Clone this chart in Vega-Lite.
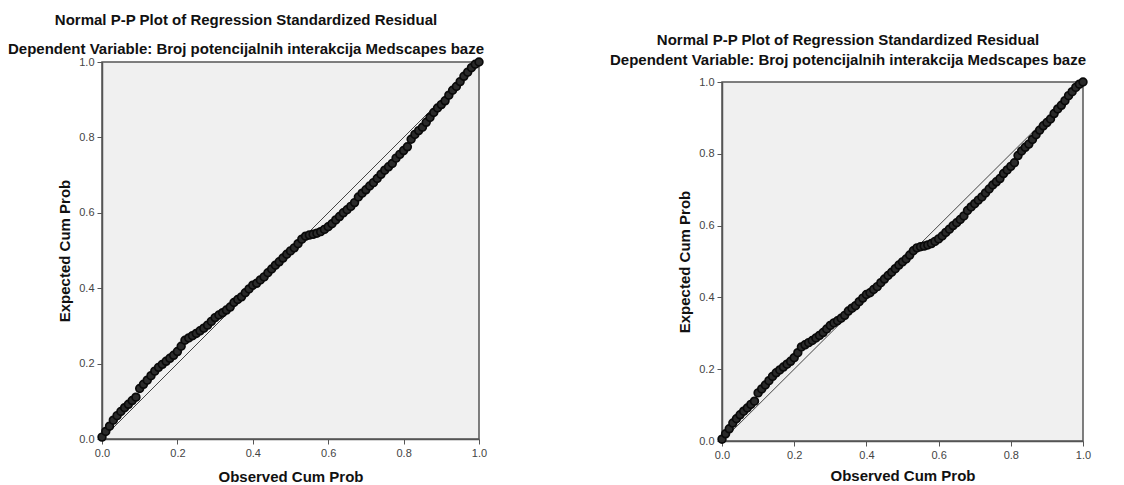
{
  "$schema": "https://vega.github.io/schema/vega-lite/v6.json",
  "background": "white",
  "padding": {"left": 7, "top": 11, "right": 5, "bottom": 0},
  "bounds": "flush",
  "spacing": 243,
  "config": {
    "font": "Liberation Sans",
    "view": {"fill": "#f0f0f0", "stroke": "#555555", "strokeWidth": 1.5},
    "axis": {
      "grid": false,
      "domainColor": "#555555",
      "domainWidth": 1.5,
      "tickColor": "#555555",
      "tickSize": 5,
      "tickWidth": 1,
      "labelColor": "#444444",
      "labelFont": "Liberation Sans",
      "labelFontSize": 11,
      "labelPadding": 3,
      "labelFlush": false,
      "titleFont": "Liberation Sans",
      "titleFontSize": 15,
      "titleFontWeight": "bold",
      "titleColor": "#111111"
    },
    "title": {
      "font": "Liberation Sans",
      "fontSize": 15,
      "fontWeight": "bold",
      "color": "#111111",
      "subtitleFont": "Liberation Sans",
      "subtitleFontSize": 15,
      "subtitleFontWeight": "bold",
      "subtitleColor": "#111111",
      "anchor": "middle"
    }
  },
  "datasets": {
    "pp": [
      {"observed": 0.00, "expected": 0.005},
      {"observed": 0.01, "expected": 0.020},
      {"observed": 0.02, "expected": 0.034},
      {"observed": 0.03, "expected": 0.050},
      {"observed": 0.04, "expected": 0.062},
      {"observed": 0.05, "expected": 0.073},
      {"observed": 0.06, "expected": 0.083},
      {"observed": 0.07, "expected": 0.092},
      {"observed": 0.08, "expected": 0.102},
      {"observed": 0.09, "expected": 0.111},
      {"observed": 0.10, "expected": 0.134},
      {"observed": 0.11, "expected": 0.145},
      {"observed": 0.12, "expected": 0.156},
      {"observed": 0.13, "expected": 0.168},
      {"observed": 0.14, "expected": 0.180},
      {"observed": 0.15, "expected": 0.190},
      {"observed": 0.16, "expected": 0.198},
      {"observed": 0.17, "expected": 0.206},
      {"observed": 0.18, "expected": 0.214},
      {"observed": 0.19, "expected": 0.222},
      {"observed": 0.20, "expected": 0.232},
      {"observed": 0.21, "expected": 0.246},
      {"observed": 0.22, "expected": 0.262},
      {"observed": 0.23, "expected": 0.268},
      {"observed": 0.24, "expected": 0.274},
      {"observed": 0.25, "expected": 0.280},
      {"observed": 0.26, "expected": 0.287},
      {"observed": 0.27, "expected": 0.294},
      {"observed": 0.28, "expected": 0.302},
      {"observed": 0.29, "expected": 0.312},
      {"observed": 0.30, "expected": 0.322},
      {"observed": 0.31, "expected": 0.329},
      {"observed": 0.32, "expected": 0.335},
      {"observed": 0.33, "expected": 0.342},
      {"observed": 0.34, "expected": 0.350},
      {"observed": 0.35, "expected": 0.362},
      {"observed": 0.36, "expected": 0.370},
      {"observed": 0.37, "expected": 0.377},
      {"observed": 0.38, "expected": 0.388},
      {"observed": 0.39, "expected": 0.398},
      {"observed": 0.40, "expected": 0.408},
      {"observed": 0.41, "expected": 0.413},
      {"observed": 0.42, "expected": 0.422},
      {"observed": 0.43, "expected": 0.430},
      {"observed": 0.44, "expected": 0.441},
      {"observed": 0.45, "expected": 0.451},
      {"observed": 0.46, "expected": 0.461},
      {"observed": 0.47, "expected": 0.470},
      {"observed": 0.48, "expected": 0.480},
      {"observed": 0.49, "expected": 0.490},
      {"observed": 0.50, "expected": 0.499},
      {"observed": 0.51, "expected": 0.507},
      {"observed": 0.52, "expected": 0.518},
      {"observed": 0.53, "expected": 0.530},
      {"observed": 0.54, "expected": 0.538},
      {"observed": 0.55, "expected": 0.541},
      {"observed": 0.56, "expected": 0.543},
      {"observed": 0.57, "expected": 0.546},
      {"observed": 0.58, "expected": 0.550},
      {"observed": 0.59, "expected": 0.556},
      {"observed": 0.60, "expected": 0.563},
      {"observed": 0.61, "expected": 0.571},
      {"observed": 0.62, "expected": 0.581},
      {"observed": 0.63, "expected": 0.590},
      {"observed": 0.64, "expected": 0.600},
      {"observed": 0.65, "expected": 0.608},
      {"observed": 0.66, "expected": 0.617},
      {"observed": 0.67, "expected": 0.627},
      {"observed": 0.68, "expected": 0.642},
      {"observed": 0.69, "expected": 0.652},
      {"observed": 0.70, "expected": 0.661},
      {"observed": 0.71, "expected": 0.671},
      {"observed": 0.72, "expected": 0.680},
      {"observed": 0.73, "expected": 0.691},
      {"observed": 0.74, "expected": 0.702},
      {"observed": 0.75, "expected": 0.713},
      {"observed": 0.76, "expected": 0.722},
      {"observed": 0.77, "expected": 0.731},
      {"observed": 0.78, "expected": 0.745},
      {"observed": 0.79, "expected": 0.755},
      {"observed": 0.80, "expected": 0.765},
      {"observed": 0.81, "expected": 0.775},
      {"observed": 0.82, "expected": 0.795},
      {"observed": 0.83, "expected": 0.808},
      {"observed": 0.84, "expected": 0.818},
      {"observed": 0.85, "expected": 0.827},
      {"observed": 0.86, "expected": 0.840},
      {"observed": 0.87, "expected": 0.853},
      {"observed": 0.88, "expected": 0.866},
      {"observed": 0.89, "expected": 0.878},
      {"observed": 0.90, "expected": 0.887},
      {"observed": 0.91, "expected": 0.897},
      {"observed": 0.92, "expected": 0.912},
      {"observed": 0.93, "expected": 0.925},
      {"observed": 0.94, "expected": 0.935},
      {"observed": 0.95, "expected": 0.948},
      {"observed": 0.96, "expected": 0.962},
      {"observed": 0.97, "expected": 0.973},
      {"observed": 0.98, "expected": 0.985},
      {"observed": 0.99, "expected": 0.994},
      {"observed": 1.00, "expected": 1.000}
    ],
    "diagonal": [
      {"observed": 0, "expected": 0},
      {"observed": 1, "expected": 1}
    ]
  },
  "hconcat": [
    {
      "width": 377,
      "height": 377,
      "title": {
        "text": "Normal P-P Plot of Regression Standardized Residual",
        "subtitle": "Dependent Variable: Broj potencijalnih interakcija Medscapes baze",
        "subtitlePadding": 14,
        "offset": -2,
        "dx": -44.5
      },
      "layer": [
        {
          "data": {"name": "diagonal"},
          "mark": {"type": "line", "color": "#444444", "strokeWidth": 1},
          "encoding": {
            "x": {"field": "observed", "type": "quantitative", "scale": {"domain": [0, 1], "nice": false}, "axis": {"title": "Observed Cum Prob", "values": [0, 0.2, 0.4, 0.6, 0.8, 1], "format": ".1f", "titlePadding": 11}},
            "y": {"field": "expected", "type": "quantitative", "scale": {"domain": [0, 1], "nice": false}, "axis": {"title": "Expected Cum Prob", "values": [0, 0.2, 0.4, 0.6, 0.8, 1], "format": ".1f", "titlePadding": 6}}
          }
        },
        {
          "data": {"name": "pp"},
          "mark": {"type": "point", "shape": "circle", "filled": true, "fill": "#2a2a2a", "stroke": "#0a0a0a", "size": 60, "strokeWidth": 1.7, "opacity": 1, "fillOpacity": 1},
          "encoding": {
            "x": {"field": "observed", "type": "quantitative"},
            "y": {"field": "expected", "type": "quantitative"}
          }
        }
      ]
    },
    {
      "bounds": "flush",
      "spacing": 0,
      "vconcat": [
        {
          "width": 361,
          "height": 20,
          "view": {"fill": "transparent", "stroke": "transparent"},
          "data": {"values": []},
          "mark": {"type": "point", "opacity": 0},
          "encoding": {}
        },
        {
          "width": 361,
          "height": 359,
          "title": {
            "text": "Normal P-P Plot of Regression Standardized Residual",
            "subtitle": "Dependent Variable: Broj potencijalnih interakcija Medscapes baze",
            "subtitlePadding": 5,
            "offset": 7,
            "dx": -54.5
          },
          "layer": [
            {
              "data": {"name": "diagonal"},
              "mark": {"type": "line", "color": "#444444", "strokeWidth": 1},
              "encoding": {
                "x": {"field": "observed", "type": "quantitative", "scale": {"domain": [0, 1], "nice": false}, "axis": {"title": "Observed Cum Prob", "values": [0, 0.2, 0.4, 0.6, 0.8, 1], "format": ".1f", "titlePadding": 8}},
                "y": {"field": "expected", "type": "quantitative", "scale": {"domain": [0, 1], "nice": false}, "axis": {"title": "Expected Cum Prob", "values": [0, 0.2, 0.4, 0.6, 0.8, 1], "format": ".1f", "titlePadding": 6}}
              }
            },
            {
              "data": {"name": "pp"},
              "mark": {"type": "point", "shape": "circle", "filled": true, "fill": "#2a2a2a", "stroke": "#0a0a0a", "size": 60, "strokeWidth": 1.7, "opacity": 1, "fillOpacity": 1},
              "encoding": {
                "x": {"field": "observed", "type": "quantitative"},
                "y": {"field": "expected", "type": "quantitative"}
              }
            }
          ]
        }
      ]
    }
  ]
}
